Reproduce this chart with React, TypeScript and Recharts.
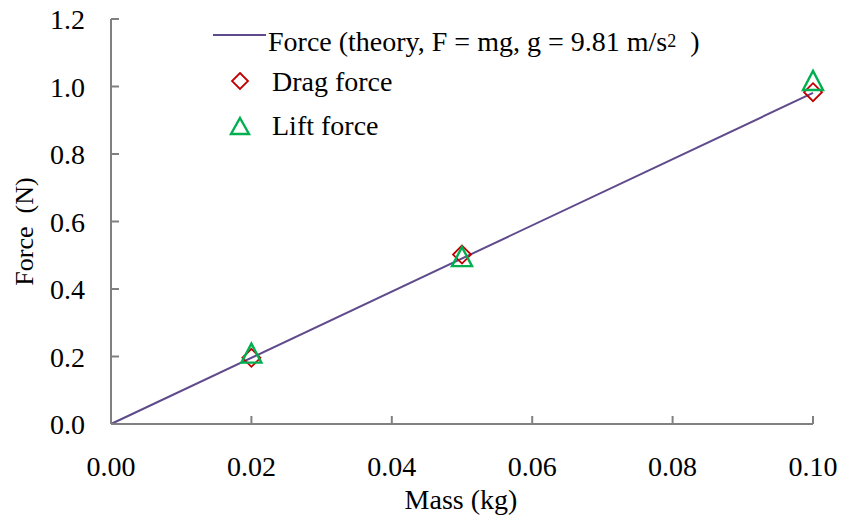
import { ComposedChart, Line, Scatter, XAxis, YAxis, Legend, Label } from "recharts";

const SERIF = "Liberation Serif";
const AXIS_GREY = "#808080";
const THEORY_COLOR = "#5F4A8B";
const DRAG_COLOR = "#C00000";
const LIFT_COLOR = "#00B050";

// axis ticks
const massTicks = [0, 0.02, 0.04, 0.06, 0.08, 0.1];
const forceTicks = [0, 0.2, 0.4, 0.6, 0.8, 1.0, 1.2];

// theory line, F = m * 9.81
const theoryMass = [0, 0.1];
const theoryForce = [0, 0.981];

// measured points
const measuredMass = [0.02, 0.05, 0.1];
const dragForce = [0.196, 0.502, 0.983];
const liftForce = [0.21, 0.496, 1.018];

const theoryData = theoryMass.map((m, i) => ({ mass: m, force: theoryForce[i] }));
const dragData = measuredMass.map((m, i) => ({ mass: m, force: dragForce[i] }));
const liftData = measuredMass.map((m, i) => ({ mass: m, force: liftForce[i] }));

function diamondPath(cx: number, cy: number, r: number) {
  return `M${cx},${cy - r}L${cx + r},${cy}L${cx},${cy + r}L${cx - r},${cy}Z`;
}

function trianglePath(cx: number, cy: number, w: number, h: number) {
  return `M${cx},${cy - h / 2}L${cx + w / 2},${cy + h / 2}L${cx - w / 2},${cy + h / 2}Z`;
}

const DiamondMarker = (props: any) => (
  <path d={diamondPath(props.cx, props.cy, 9)} fill="none" stroke={DRAG_COLOR} strokeWidth={1.8} />
);

const TriangleMarker = (props: any) => (
  <path d={trianglePath(props.cx, props.cy, 20, 19)} fill="none" stroke={LIFT_COLOR} strokeWidth={2.4} />
);

// tick labels as plain serif text
const MassTick = (props: any) => {
  const { x, y, payload } = props;
  return (
    <text x={x} y={y} dy={20} textAnchor="middle" fontFamily={SERIF} fontSize={28} fill="#000">
      {payload.value.toFixed(2)}
    </text>
  );
};

const ForceTick = (props: any) => {
  const { x, y, payload } = props;
  return (
    <text x={x} y={y} dy={10} textAnchor="end" fontFamily={SERIF} fontSize={28} fill="#000">
      {payload.value.toFixed(1)}
    </text>
  );
};

// legend drawn in chart coordinates, sitting over the upper-left of the plot
function ForceLegend() {
  return (
    <svg width={843} height={150} style={{ position: "absolute", left: 0, top: 0, overflow: "visible" }}>
      <g fontFamily={SERIF} fontSize={28} fill="#000">
        <line x1={213} y1={35} x2={266} y2={35} stroke={THEORY_COLOR} strokeWidth={2} />
        <text x={268} y={51}>
          Force (theory, F = mg, g = 9.81 m/s
          <tspan fontSize={18} dy={-4}>2</tspan>
          <tspan dy={4} style={{ whiteSpace: "pre" }}>{"  )"}</tspan>
        </text>
        <path d={diamondPath(240, 81, 8)} fill="none" stroke={DRAG_COLOR} strokeWidth={1.8} />
        <text x={272} y={91}>Drag force</text>
        <path d={trianglePath(240, 126, 18, 16)} fill="none" stroke={LIFT_COLOR} strokeWidth={2.4} />
        <text x={272} y={135}>Lift force</text>
      </g>
    </svg>
  );
}

export default function App() {
  return (
    <div style={{ position: "absolute", left: 0, top: 0, background: "#fff", fontFamily: SERIF }}>
      <ComposedChart width={843} height={519} margin={{ top: 19, right: 30, bottom: 0, left: 0 }}>
        <XAxis
          type="number"
          dataKey="mass"
          domain={[0, 0.1]}
          ticks={massTicks}
          tick={<MassTick />}
          height={95}
          axisLine={{ stroke: AXIS_GREY, strokeWidth: 2 }}
          tickLine={{ stroke: AXIS_GREY, strokeWidth: 2 }}
          tickSize={-8}
          tickMargin={40}
          interval={0}
        >
          <Label
            content={({ viewBox }: any) => (
              <text
                x={viewBox.x + viewBox.width / 2 - 1}
                y={viewBox.y + 85}
                textAnchor="middle"
                fontFamily={SERIF}
                fontSize={28}
                fill="#000"
              >
                Mass (kg)
              </text>
            )}
          />
        </XAxis>
        <YAxis
          type="number"
          dataKey="force"
          domain={[0, 1.2]}
          ticks={forceTicks}
          tick={<ForceTick />}
          width={111}
          axisLine={{ stroke: AXIS_GREY, strokeWidth: 2 }}
          tickLine={{ stroke: AXIS_GREY, strokeWidth: 2 }}
          tickSize={-8}
          tickMargin={34}
          interval={0}
        >
          <Label
            content={({ viewBox }: any) => {
              const x = viewBox.x + 33;
              const y = viewBox.y + viewBox.height / 2 + 10;
              return (
                <text
                  x={x}
                  y={y}
                  transform={`rotate(-90, ${x}, ${y})`}
                  textAnchor="middle"
                  fontFamily={SERIF}
                  fontSize={26}
                  fill="#000"
                  style={{ whiteSpace: "pre" }}
                >
                  {"Force  (N)"}
                </text>
              );
            }}
          />
        </YAxis>
        <Legend
          layout="vertical"
          verticalAlign="middle"
          align="center"
          wrapperStyle={{ left: 0, top: 0, width: 843, height: 0 }}
          content={() => <ForceLegend />}
        />
        <Line
          data={theoryData}
          dataKey="force"
          type="linear"
          stroke={THEORY_COLOR}
          strokeWidth={2}
          dot={false}
          activeDot={false}
          isAnimationActive={false}
        />
        <Scatter data={dragData} dataKey="force" shape={DiamondMarker} isAnimationActive={false} />
        <Scatter data={liftData} dataKey="force" shape={TriangleMarker} isAnimationActive={false} />
      </ComposedChart>
    </div>
  );
}
